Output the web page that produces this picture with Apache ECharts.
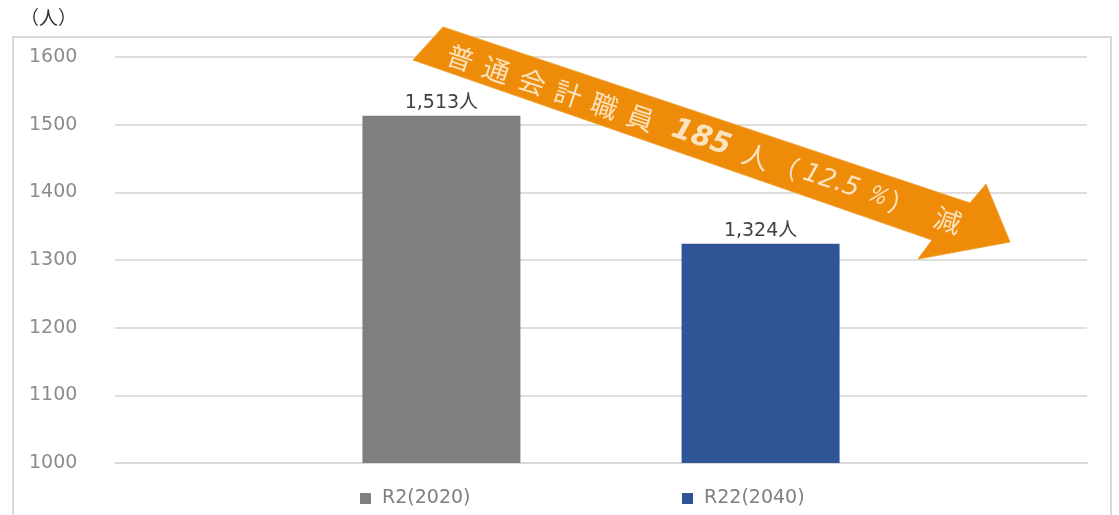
<!DOCTYPE html>
<html>
<head>
<meta charset="utf-8">
<script src="https://cdn.jsdelivr.net/npm/echarts@6/dist/echarts.min.js"></script>
<style>
html,body{margin:0;padding:0;background:#fff;}
#main{width:1119px;height:515px;}
</style>
</head>
<body>
<div id="main"></div>
<script>
const categories = [''];
const seriesNames = ['R2(2020)', 'R22(2040)'];
const seriesValues = [[1513], [1324]];
const yTicks = [1000, 1100, 1200, 1300, 1400, 1500, 1600];
const unitLabel = '（人）';
const arrowTokens = [
  ['c', '普'], ['c', '通'], ['c', '会'], ['c', '計'], ['c', '職'], ['c', '員'],
  ['s1', ' '], ['b', '185'], ['s2', ' '], ['c', '人'], ['p1', '（'], ['n', '12.5'],
  ['pc', '％'], ['p2', '）'], ['s3', ' '], ['c', '減']
];

const colors = ['#7f7f7f', '#2f5597'];
const numFont = '"DejaVu Sans", "Noto Sans CJK JP", sans-serif';
const cjkFont = '"Noto Sans CJK JP", sans-serif';
const textCream = '#fbe3bf';

const chart = echarts.init(document.getElementById('main'));
const option = {
  animation: false,
  backgroundColor: '#fff',
  grid: { left: 115, right: 32, top: 57, bottom: 52 },
  xAxis: {
    type: 'category',
    data: categories,
    axisLine: { show: true, lineStyle: { color: '#d9d9d9', width: 2 } },
    axisTick: { show: false },
    axisLabel: { show: false }
  },
  yAxis: {
    type: 'value',
    min: yTicks[0],
    max: yTicks[yTicks.length - 1],
    interval: yTicks[1] - yTicks[0],
    axisLine: { show: false },
    axisTick: { show: false },
    splitLine: { lineStyle: { color: '#dedede', width: 2 } },
    axisLabel: {
      align: 'left',
      margin: 86,
      color: '#8c8c8c',
      fontSize: 19,
      fontFamily: numFont,
      formatter: v => String(v)
    }
  },
  legend: [
    {
      data: [seriesNames[0]], left: 355, top: 484, itemWidth: 11, itemHeight: 11,
      icon: 'rect',
      textStyle: { color: '#7f7f7f', fontSize: 19, fontFamily: numFont, padding: [0, 0, 0, 6] }
    },
    {
      data: [seriesNames[1]], left: 677, top: 484, itemWidth: 11, itemHeight: 11,
      icon: 'rect',
      textStyle: { color: '#7f7f7f', fontSize: 19, fontFamily: numFont, padding: [0, 0, 0, 6] }
    }
  ],
  series: seriesNames.map((name, i) => ({
    name: name,
    type: 'bar',
    data: seriesValues[i],
    barWidth: 158,
    barGap: '102%',
    itemStyle: { color: colors[i] },
    label: {
      show: true,
      position: 'top',
      distance: 3,
      color: '#404040',
      fontSize: 19,
      fontFamily: numFont,
      formatter: p => p.value.toLocaleString('en-US') + '人'
    }
  })),
  graphic: [
    {
      type: 'rect',
      shape: { x: 13, y: 37, width: 1098, height: 490 },
      style: { fill: 'none', stroke: '#d9d9d9', lineWidth: 2 },
      silent: true
    },
    {
      type: 'text',
      left: 20, top: 8,
      style: { text: unitLabel, fill: '#333', font: '19px "Noto Sans CJK JP", sans-serif' }
    },
    {
      type: 'polygon',
      shape: {
        points: [[443, 27], [970, 203], [986, 184], [1010, 242], [918, 259], [932, 240], [413, 60]]
      },
      style: { fill: '#ee8c0a', stroke: '#f2a030', lineWidth: 1 },
      z: 100
    },
    {
      type: 'text',
      x: 704, y: 139,
      rotation: -0.322,
      z: 101,
      style: {
        text: arrowTokens.map(t => '{' + t[0] + '|' + t[1] + '}').join(''),
        align: 'center',
        verticalAlign: 'middle',
        rich: {
          c: { fill: textCream, fontSize: 27, width: 38, align: 'center', fontFamily: cjkFont },
          p1: { fill: textCream, fontSize: 26, width: 25, align: 'center', fontFamily: cjkFont },
          p2: { fill: textCream, fontSize: 26, width: 31, align: 'center', fontFamily: cjkFont },
          pc: { fill: textCream, fontSize: 25, width: 24, align: 'center', fontStyle: 'italic', fontFamily: '"DejaVu Sans", sans-serif' },
          s1: { fill: textCream, fontSize: 25, width: 10 },
          s2: { fill: textCream, fontSize: 25, width: 4 },
          s3: { fill: textCream, fontSize: 25, width: 14 },
          n: { fill: textCream, fontSize: 26, width: 70, align: 'center', fontStyle: 'italic', fontFamily: '"DejaVu Sans", sans-serif' },
          b: { fill: textCream, fontSize: 29, width: 70, align: 'center', fontWeight: 'bold', fontStyle: 'italic', fontFamily: '"DejaVu Sans", sans-serif' }
        }
      }
    }
  ]
};
chart.setOption(option);
</script>
</body>
</html>
